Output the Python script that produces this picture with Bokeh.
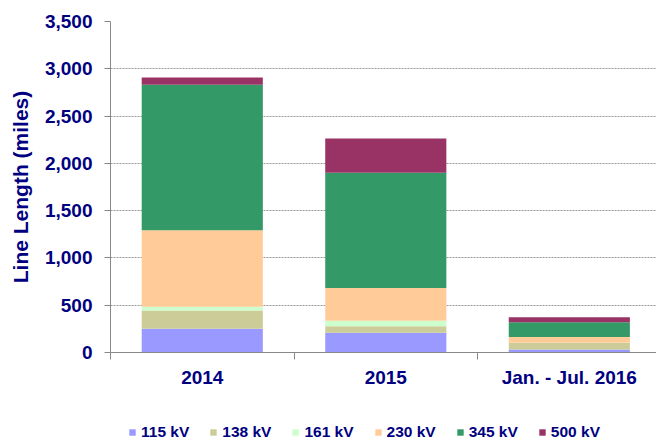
from bokeh.plotting import figure
from bokeh.models import (Range1d, FixedTicker, NumeralTickFormatter, Legend,
                          LegendItem, ColumnDataSource)
from bokeh.layouts import column
from bokeh.embed import file_html
from bokeh.resources import INLINE

# ---- data ----
periods = ["2014", "2015", "Jan. - Jul. 2016"]
voltages = ["115 kV", "138 kV", "161 kV", "230 kV", "345 kV", "500 kV"]
kv115 = [250, 208, 32]
kv138 = [193, 69, 70]
kv161 = [42, 60, 2]
kv230 = [808, 345, 61]
kv345 = [1538, 1218, 155]
kv500 = [77, 362, 52]
colors = ["#9999FF", "#CCCC99", "#CCFFCC", "#FFCC99", "#339966", "#993366"]
y_ticks = [0, 500, 1000, 1500, 2000, 2500, 3000, 3500]

series = [kv115, kv138, kv161, kv230, kv345, kv500]
xpos = [i + 0.5 for i in range(len(periods))]

FONT = "Liberation Sans"
NAVY = "#000080"

p = figure(width=656, height=417, output_backend="svg", toolbar_location=None,
           x_range=Range1d(0, 2.975), y_range=Range1d(0, 3500),
           min_border_left=110, min_border_top=21, min_border_right=0,
           min_border_bottom=65)
p.outline_line_color = None
p.background_fill_color = "white"

data = {"x": xpos}
keys = []
for i, s in enumerate(series):
    k = "s%d" % i
    data[k] = s
    keys.append(k)
src = ColumnDataSource(data)
rs = p.vbar_stack(keys, x="x", width=0.66, color=colors, source=src,
                  line_color=None)

# axes
p.xgrid.grid_line_color = None
p.ygrid.grid_line_color = "#999999"
p.ygrid.grid_line_dash = "2 1"
p.ygrid.ticker = FixedTicker(ticks=y_ticks[1:])

p.yaxis.ticker = FixedTicker(ticks=y_ticks)
p.yaxis.formatter = NumeralTickFormatter(format="0,0")
p.yaxis.axis_line_color = "#888888"
p.yaxis.major_tick_line_color = "#888888"
p.yaxis.major_tick_out = 6
p.yaxis.major_tick_in = 0
p.yaxis.minor_tick_line_color = None
p.yaxis.major_label_standoff = 12
p.yaxis.major_label_text_font = FONT
p.yaxis.major_label_text_font_style = "bold"
p.yaxis.major_label_text_font_size = "19px"
p.yaxis.major_label_text_color = NAVY
p.yaxis.axis_label = "Line Length (miles)"
p.yaxis.axis_label_text_font = FONT
p.yaxis.axis_label_text_font_style = "bold"
p.yaxis.axis_label_text_font_size = "21px"
p.yaxis.axis_label_text_color = NAVY
p.yaxis.axis_label_standoff = 10

p.xaxis.ticker = FixedTicker(ticks=xpos, minor_ticks=[0, 1, 2, 3])
p.xaxis.major_label_overrides = {x: lab for x, lab in zip(xpos, periods)}
p.xaxis.axis_line_color = "#888888"
p.xaxis.major_tick_out = 0
p.xaxis.major_tick_in = 0
p.xaxis.minor_tick_out = 7
p.xaxis.minor_tick_in = 0
p.xaxis.minor_tick_line_color = "#888888"
p.xaxis.major_label_standoff = 7
p.xaxis.major_label_text_font = FONT
p.xaxis.major_label_text_font_style = "bold"
p.xaxis.major_label_text_font_size = "19px"
p.xaxis.major_label_text_color = NAVY

# ---- legend strip (separate small figure under the chart) ----
q = figure(width=656, height=24, output_backend="svg", toolbar_location=None,
           x_axis_type=None, y_axis_type=None,
           x_range=Range1d(0, 1), y_range=Range1d(0, 1),
           min_border_left=0, min_border_right=0, min_border_top=0,
           min_border_bottom=0)
q.outline_line_color = None
q.xgrid.grid_line_color = None
q.ygrid.grid_line_color = None
# zero-height swatch bars: only used so the legend can draw its colour keys
swatch = ColumnDataSource({"x": [0.5], **{k: [0] for k in keys}})
qrs = q.vbar_stack(keys, x="x", width=0.01, color=colors, source=swatch,
                   line_color=None)

legend = Legend(items=[LegendItem(label=v, renderers=[r]) for v, r in zip(voltages, qrs)],
                location=(18, 0), orientation="horizontal",
                glyph_width=8, glyph_height=8, label_standoff=5, spacing=20,
                padding=0, margin=0, border_line_color=None,
                background_fill_alpha=0, label_height=16,
                label_text_font=FONT, label_text_font_style="bold",
                label_text_font_size="15.5px", label_text_color=NAVY)
q.add_layout(legend, "center")

layout = column(p, q, spacing=0)
open("out.html", "w").write(file_html(layout, INLINE))
